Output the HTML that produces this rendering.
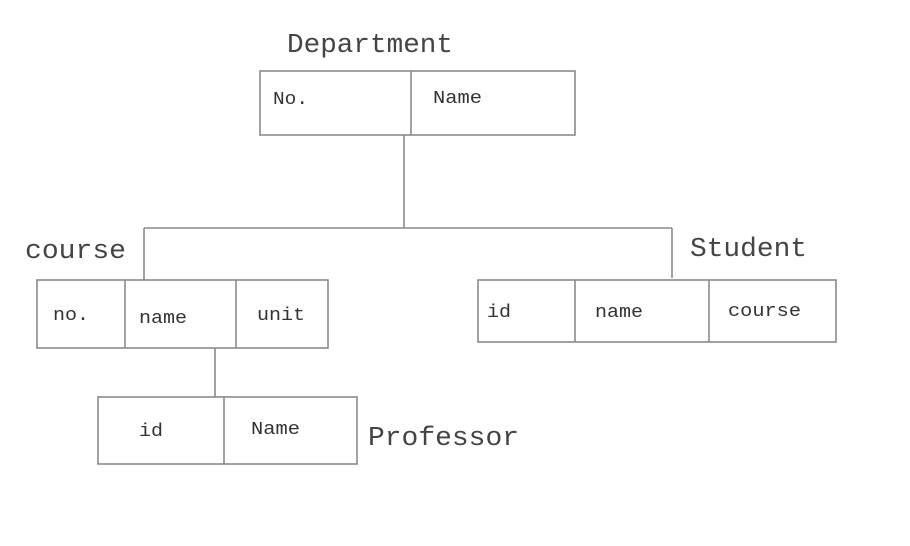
<!DOCTYPE html>
<html><head><style>body{margin:0;background:#fff}</style></head><body>
<svg width="910" height="541" xmlns="http://www.w3.org/2000/svg" font-family="'Liberation Mono', monospace">
<g fill="none" stroke="#8a8a8a" stroke-width="1.6">
<rect x="260" y="71" width="315" height="64"/><line x1="411" y1="71" x2="411" y2="135"/>
<line x1="404" y1="135" x2="404" y2="228"/><line x1="144" y1="228" x2="672" y2="228"/>
<line x1="144" y1="228" x2="144" y2="280"/><line x1="672" y1="228" x2="672" y2="278"/>
<rect x="37" y="280" width="291" height="68"/><line x1="125" y1="280" x2="125" y2="348"/><line x1="236" y1="280" x2="236" y2="348"/>
<rect x="478" y="280" width="358" height="62"/><line x1="575" y1="280" x2="575" y2="342"/><line x1="709" y1="280" x2="709" y2="342"/>
<line x1="215" y1="348" x2="215" y2="397"/>
<rect x="98" y="397" width="259" height="67"/><line x1="224" y1="397" x2="224" y2="464"/>
</g>
<g fill="#444" font-size="27" lengthAdjust="spacingAndGlyphs">
<text x="287" y="52" textLength="166" lengthAdjust="spacingAndGlyphs">Department</text>
<text x="25" y="258" textLength="101" lengthAdjust="spacingAndGlyphs">course</text>
<text x="690" y="256" textLength="117" lengthAdjust="spacingAndGlyphs">Student</text>
<text x="368" y="445" textLength="151" lengthAdjust="spacingAndGlyphs">Professor</text>
</g>
<g fill="#333" font-size="18">
<text x="273" y="104" textLength="35" lengthAdjust="spacingAndGlyphs">No.</text>
<text x="433" y="103" textLength="49" lengthAdjust="spacingAndGlyphs">Name</text>
<text x="53" y="320" textLength="36" lengthAdjust="spacingAndGlyphs">no.</text>
<text x="139" y="323" textLength="48" lengthAdjust="spacingAndGlyphs">name</text>
<text x="257" y="320" textLength="48" lengthAdjust="spacingAndGlyphs">unit</text>
<text x="487" y="317" textLength="24" lengthAdjust="spacingAndGlyphs">id</text>
<text x="595" y="317" textLength="48" lengthAdjust="spacingAndGlyphs">name</text>
<text x="728" y="316" textLength="73" lengthAdjust="spacingAndGlyphs">course</text>
<text x="139" y="436" textLength="24" lengthAdjust="spacingAndGlyphs">id</text>
<text x="251" y="434" textLength="49" lengthAdjust="spacingAndGlyphs">Name</text>
</g>
</svg>
</body></html>
